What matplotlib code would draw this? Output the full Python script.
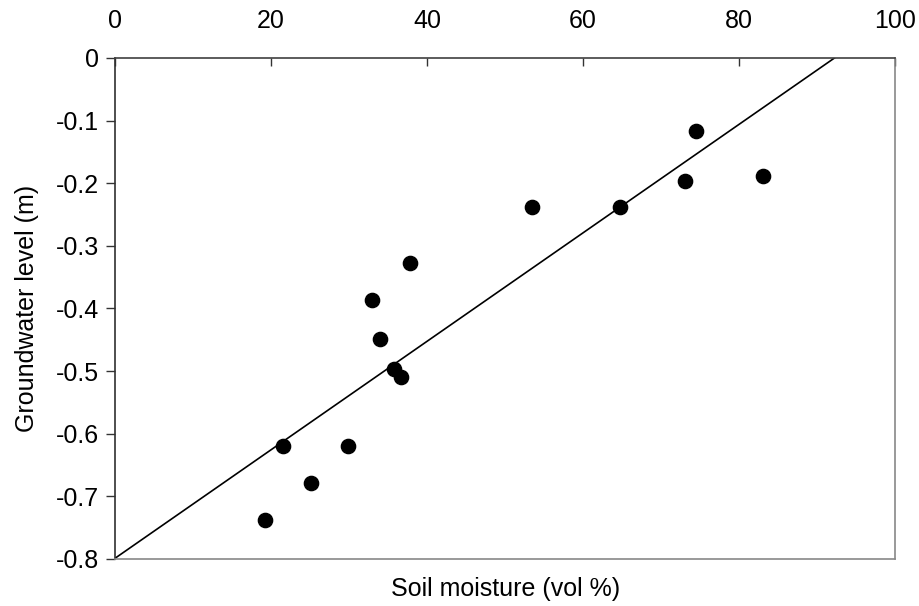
import numpy as np
import matplotlib
matplotlib.use("Agg")
import matplotlib.pyplot as plt

plt.rcParams['font.family'] = ['Liberation Sans', 'DejaVu Sans']

# soil moisture (vol %) vs groundwater level (m)
soil_moisture = [19.2, 21.5, 25.1, 29.9, 32.9, 34.0, 35.7, 36.7, 37.8,
                 53.5, 64.7, 73.1, 74.5, 83.1]
groundwater = [-0.738, -0.619, -0.678, -0.619, -0.387, -0.449, -0.496, -0.509,
               -0.327, -0.238, -0.238, -0.196, -0.117, -0.188]
x_ticks = [0, 20, 40, 60, 80, 100]
y_ticks = [0, -0.1, -0.2, -0.3, -0.4, -0.5, -0.6, -0.7, -0.8]
y_tick_labels = ["0", "-0.1", "-0.2", "-0.3", "-0.4", "-0.5", "-0.6", "-0.7", "-0.8"]

fig = plt.figure(figsize=(9.2, 6.06), dpi=100)
ax = fig.add_axes([0.125, 0.0776, 0.848, 0.8267])

# linear fit through the points
slope, intercept = np.polyfit(soil_moisture, groundwater, 1)
xs = np.array([0, 100])
ax.plot(xs, slope * xs + intercept, color='black', lw=1.2, zorder=2)

ax.scatter(soil_moisture, groundwater, s=105, color='black', zorder=3)

ax.set_xlim(0, 100)
ax.set_ylim(-0.8, 0)
ax.set_xticks(x_ticks)
ax.set_yticks(y_ticks)
ax.set_yticklabels(y_tick_labels)

ax.xaxis.tick_top()
ax.tick_params(axis='x', direction='in', length=6, width=1, colors='#333333',
               labelsize=18, labelcolor='black', pad=18)
ax.tick_params(axis='y', direction='out', length=6.5, width=1, colors='#333333',
               labelsize=18, labelcolor='black', pad=5)

ax.spines['top'].set_color('#404040')
ax.spines['left'].set_color('#303030')
ax.spines['bottom'].set_color('#888888')
ax.spines['right'].set_color('#888888')
for s in ax.spines.values():
    s.set_linewidth(1.2)

ax.set_xlabel("Soil moisture (vol %)", fontsize=18)
ax.xaxis.set_label_position('bottom')
ax.xaxis.labelpad = 13
ax.set_ylabel("Groundwater level (m)", fontsize=18, labelpad=12)

fig.savefig("out.png", dpi=100, facecolor='white')
